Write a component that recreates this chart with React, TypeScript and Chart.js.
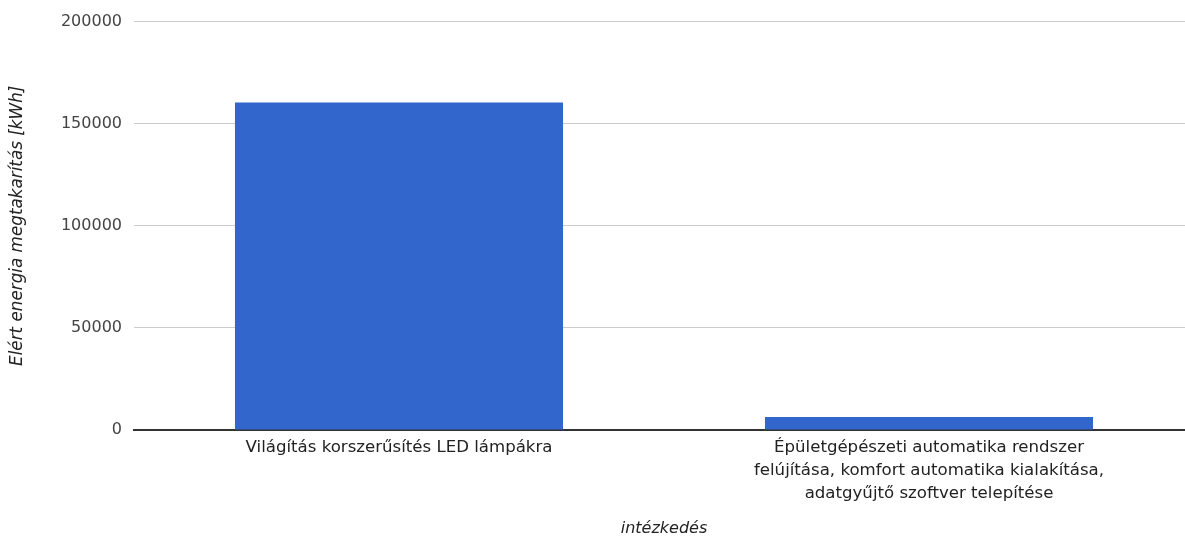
import React, { useEffect, useRef } from "react";
import { Chart, registerables } from "chart.js";

Chart.register(...registerables);

const categories: (string | string[])[] = [
  "Világítás korszerűsítés LED lámpákra",
  [
    "Épületgépészeti automatika rendszer",
    "felújítása, komfort automatika kialakítása,",
    "adatgyűjtő szoftver telepítése",
  ],
];
const savings: number[] = [160400, 6400];
const yTicks: number[] = [0, 50000, 100000, 150000, 200000];
const yTitle = "Elért energia megtakarítás [kWh]";
const xTitle = "intézkedés";

const FONT = "'DejaVu Sans', sans-serif";
const CANVAS_W = 1194;

export default function App() {
  const ref = useRef<HTMLCanvasElement | null>(null);
  useEffect(() => {
    let chart: Chart | null = null;
    let cancelled = false;
    const make = () => {
      if (cancelled || !ref.current) return;
      chart = new Chart(ref.current, {
        type: "bar",
        data: {
          labels: categories,
          datasets: [
            {
              data: savings,
              backgroundColor: "#3366CC",
              barPercentage: 0.619,
              categoryPercentage: 1,
            },
          ],
        },
        options: {
          animation: false,
          responsive: false,
          devicePixelRatio: 1,
          layout: { padding: { top: 21, right: 0, left: 0, bottom: 0 } },
          plugins: { legend: { display: false }, tooltip: { enabled: false } },
          scales: {
            x: {
              grid: { display: false, drawTicks: false },
              border: { display: true, color: "#333333", width: 2 },
              ticks: {
                color: "#222222",
                font: { family: FONT, size: 16.6, lineHeight: 1.39 },
                padding: 6,
                maxRotation: 0,
                autoSkip: false,
              },
              title: {
                display: true,
                text: xTitle,
                color: "#222222",
                font: { family: FONT, size: 16, style: "italic" },
                padding: { top: 4, bottom: 0 },
              },
              afterFit: (s: any) => {
                s.height = 108;
              },
            },
            y: {
              min: 0,
              max: 200000,
              afterBuildTicks: (s: any) => {
                s.ticks = yTicks.map((v) => ({ value: v }));
              },
              ticks: {
                color: "#444444",
                font: { family: FONT, size: 16 },
                padding: 12,
                callback: (v: any) => String(v),
              },
              grid: { color: "#cccccc", lineWidth: 1, drawTicks: false },
              border: { display: false },
              title: {
                display: true,
                text: yTitle,
                color: "#222222",
                font: { family: FONT, size: 16.8, style: "italic" },
                padding: { top: 8, bottom: 0 },
              },
              afterFit: (s: any) => {
                s.width = 134;
              },
            },
          },
        },
      });
    };
    const fonts: any = (document as any).fonts;
    if (fonts && fonts.load) {
      Promise.all([
        fonts.load("16px 'DejaVu Sans'"),
        fonts.load("italic 16px 'DejaVu Sans'"),
      ])
        .catch(() => {})
        .then(make);
    } else {
      make();
    }
    return () => {
      cancelled = true;
      if (chart) chart.destroy();
    };
  }, []);
  return (
    <div style={{ position: "fixed", left: 0, top: 0, width: 1185, height: 538, overflow: "hidden", background: "#fff" }}>
      <canvas ref={ref} width={CANVAS_W} height={538} style={{ width: CANVAS_W, height: 538, display: "block" }} />
    </div>
  );
}
